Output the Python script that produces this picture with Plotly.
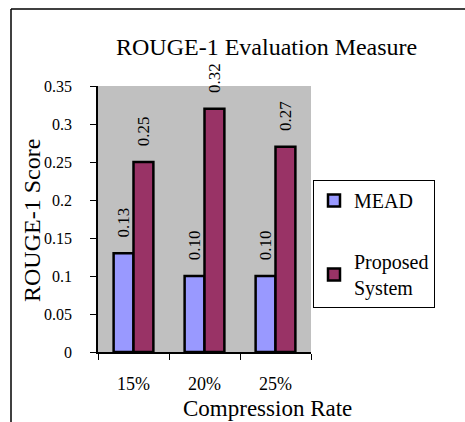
import plotly.graph_objects as go

# Chart data
rates = ["15%", "20%", "25%"]
mead_scores = [0.13, 0.10, 0.10]
proposed_scores = [0.25, 0.32, 0.27]
y_tick_values = [0, 0.05, 0.1, 0.15, 0.2, 0.25, 0.3, 0.35]
y_tick_labels = ["0", "0.05", "0.1", "0.15", "0.2", "0.25", "0.3", "0.35"]

SERIF = "Liberation Serif, Times New Roman, serif"
PAD = "\u00a0\u00a0\u00a0"  # keeps the rotated value labels clear of the bar tops


def value_labels(values):
    return [PAD + f"{v:.2f}" for v in values]


fig = go.Figure()
fig.add_trace(go.Bar(
    name="MEAD", x=rates, y=mead_scores,
    marker=dict(color="#9999FF", line=dict(color="black", width=2.5)),
    text=value_labels(mead_scores), textposition="outside",
    textangle=-90, textfont=dict(family=SERIF, size=17, color="black"),
    constraintext="none", cliponaxis=False, legendgroup="a",
))
fig.add_trace(go.Bar(
    name="Proposed<br>System", x=rates, y=proposed_scores,
    marker=dict(color="#993366", line=dict(color="black", width=2.5)),
    text=value_labels(proposed_scores), textposition="outside",
    textangle=-90, textfont=dict(family=SERIF, size=17, color="black"),
    constraintext="none", cliponaxis=False, legendgroup="b",
))

W, H = 465, 422
L, R, T, B = 98, 154, 86, 70
pw, ph = W - L - R, H - T - B


def px(xp):
    return (xp - L) / pw


def py(yp):
    return (H - B - yp) / ph


def label(text, x, y, angle=0, size=24):
    return dict(text=text, x=px(x), y=py(y), textangle=angle,
                xref="paper", yref="paper", xanchor="center", yanchor="middle",
                showarrow=False, font=dict(family=SERIF, size=size))


fig.update_layout(
    width=W, height=H,
    margin=dict(l=L, r=R, t=T, b=B),
    paper_bgcolor="white", plot_bgcolor="#C0C0C0",
    barmode="group", bargap=0.44, bargroupgap=0,
    font=dict(family=SERIF, color="black"),
    showlegend=True,
    legend=dict(
        x=px(313), y=py(180), xanchor="left", yanchor="top",
        bordercolor="black", borderwidth=1, bgcolor="white",
        font=dict(family=SERIF, size=20, color="black"),
        traceorder="grouped", tracegroupgap=32, itemwidth=30,
    ),
    xaxis=dict(
        showline=True, linecolor="black", linewidth=1.5,
        ticks="outside", ticklen=6, tickcolor="black", tickson="boundaries",
        tickfont=dict(family=SERIF, size=18), ticklabelstandoff=15,
        showgrid=False,
    ),
    yaxis=dict(
        range=[0, 0.35], tickvals=y_tick_values, ticktext=y_tick_labels,
        showline=True, linecolor="black", linewidth=1.5,
        ticks="outside", ticklen=6, tickcolor="black",
        tickfont=dict(family=SERIF, size=16), ticklabelstandoff=15,
        showgrid=False, zeroline=False,
    ),
    annotations=[
        label("ROUGE-1 Evaluation Measure", 266, 47),
        label("ROUGE-1 Score", 32, 221, -90),
        label("Compression Rate", 267, 408, size=23),
    ],
    shapes=[
        dict(type="line", xref="paper", yref="paper",
             x0=px(11), x1=px(466), y0=py(9), y1=py(9),
             line=dict(color="black", width=1.5)),
        dict(type="line", xref="paper", yref="paper",
             x0=px(11), x1=px(11), y0=py(9), y1=py(423),
             line=dict(color="black", width=1.5)),
    ],
)

fig.write_html("out.html")
